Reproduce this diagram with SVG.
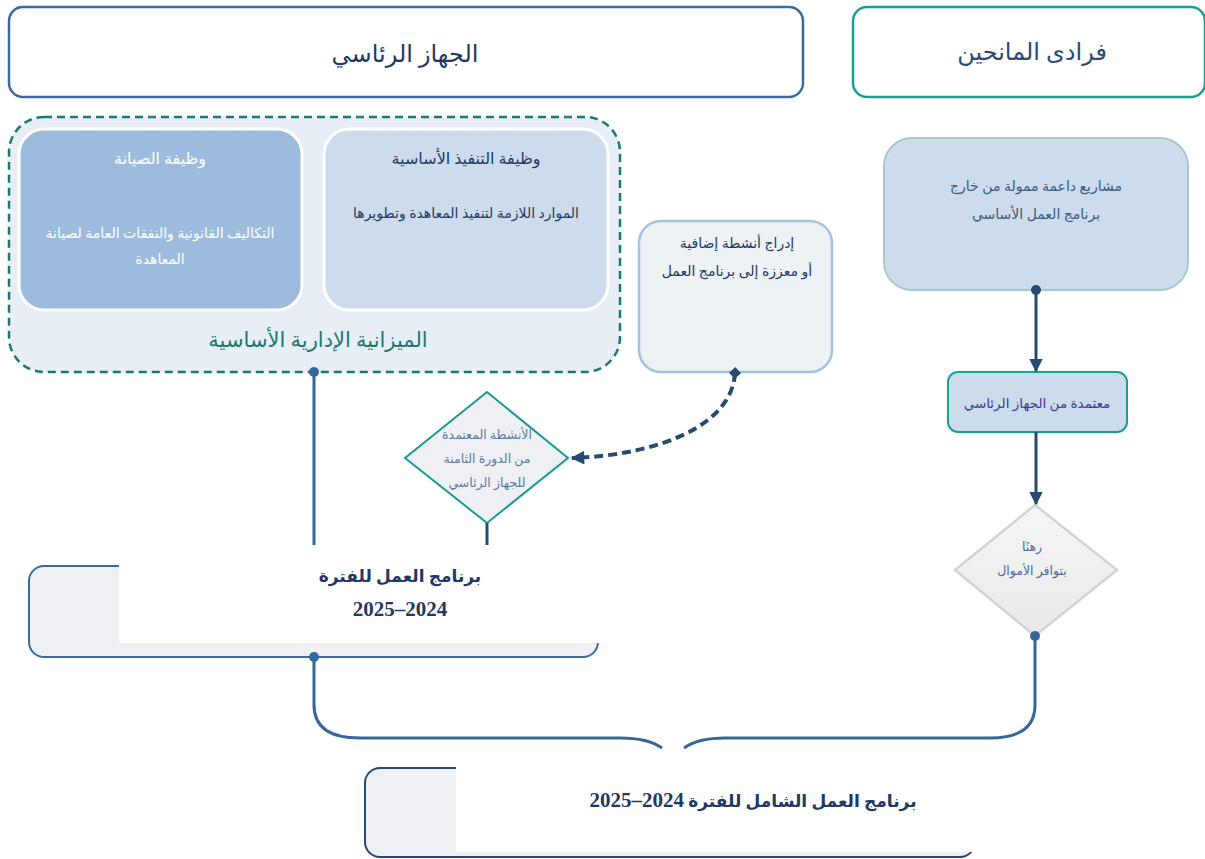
<svg xmlns="http://www.w3.org/2000/svg" width="1205" height="859" viewBox="0 0 1205 859">
<defs>
<style>
text{font-family:'Liberation Serif','DejaVu Sans',serif;text-anchor:middle;direction:rtl}
.navy{fill:#1f3864}
.hdr{font-size:24px}
.t15{font-size:14px}
.b{font-weight:bold;font-size:17px;fill:#1f3864}
.num{font-size:21px}
.ln{fill:none;stroke:#35679a;stroke-width:3}
.dk{fill:none;stroke:#264a72;stroke-width:3}
</style>
<marker id="arr" viewBox="0 0 10 10" refX="9" refY="5" markerWidth="4.5" markerHeight="4.5" orient="auto" markerUnits="strokeWidth">
<path d="M0,0 L10,5 L0,10 z" fill="#264a72"/>
</marker>
<marker id="arrD" viewBox="0 0 10 10" refX="9" refY="5" markerWidth="4" markerHeight="3.4" orient="auto" markerUnits="strokeWidth">
<path d="M0,0 L10,5 L0,10 z" fill="#264a72"/>
</marker>
<marker id="dmd" viewBox="0 0 10 10" refX="5" refY="5" markerWidth="3" markerHeight="3" orient="auto" markerUnits="strokeWidth">
<path d="M5,0 L10,5 L5,10 L0,5 z" fill="#264a72"/>
</marker>
<linearGradient id="gg" x1="0" y1="0" x2="0" y2="1">
<stop offset="0" stop-color="#f6f6f6"/><stop offset="1" stop-color="#e9e9e9"/>
</linearGradient>
</defs>
<rect width="1205" height="859" fill="#ffffff"/>

<g id="header-governing">
<rect x="9" y="7" width="794" height="90" rx="14" fill="#fff" stroke="#3a6b9e" stroke-width="2.5"/>
<text x="405" y="62" class="hdr navy">الجهاز الرئاسي</text>
</g>

<g id="header-donors">
<rect x="853" y="7" width="352" height="90" rx="14" fill="#fff" stroke="#17a09a" stroke-width="2.5"/>
<text x="1032" y="60" class="hdr" fill="#2b4a75">فرادى المانحين</text>
</g>

<g id="core-budget">
<rect x="9" y="117" width="611" height="255" rx="35" fill="#e8eef6" stroke="#1a7a70" stroke-width="2.5" stroke-dasharray="8 5"/>
<text x="318" y="347" font-size="21" fill="#1a7a70">الميزانية الإدارية الأساسية</text>
</g>

<g id="maintenance">
<rect x="19" y="129" width="283" height="181" rx="25" fill="#9dbcdd" stroke="#ffffff" stroke-width="3"/>
<text x="160" y="164" font-size="16" fill="#ffffff">وظيفة الصيانة</text>
<text x="160" y="238" class="t15" fill="#ffffff">التكاليف القانونية والنفقات العامة لصيانة</text>
<text x="160" y="264" class="t15" fill="#ffffff">المعاهدة</text>
</g>

<g id="core-execution">
<rect x="324" y="129" width="284" height="181" rx="25" fill="#cddcec" stroke="#ffffff" stroke-width="3"/>
<text x="466" y="164" font-size="16" class="navy">وظيفة التنفيذ الأساسية</text>
<text x="466" y="218" class="t15 navy">الموارد اللازمة لتنفيذ المعاهدة وتطويرها</text>
</g>

<g id="additional">
<rect x="639" y="221" width="193" height="151" rx="22" fill="#edf2f5" stroke="#a4c2e0" stroke-width="2.5"/>
<text x="737" y="248" class="t15 navy">إدراج أنشطة إضافية</text>
<text x="737" y="276" class="t15 navy">أو معززة إلى برنامج العمل</text>
</g>

<g id="approved-activities">
<polygon points="487,392 568,458 487,523 405,458" fill="#eef0f4" stroke="#1a9a90" stroke-width="2"/>
<text x="487" y="439" font-size="12.5" fill="#5a7aa0">الأنشطة المعتمدة</text>
<text x="487" y="463" font-size="12.5" fill="#5a7aa0">من الدورة الثامنة</text>
<text x="487" y="487" font-size="12.5" fill="#5a7aa0">للجهاز الرئاسي</text>
</g>

<g id="supporting-projects">
<rect x="884" y="138" width="304" height="152" rx="28" fill="#cddcec" stroke="#a8c8cc" stroke-width="2"/>
<text x="1036" y="191" class="t15" fill="#3a5a80">مشاريع داعمة ممولة من خارج</text>
<text x="1036" y="219" class="t15" fill="#3a5a80">برنامج العمل الأساسي</text>
</g>

<g id="approved-gb">
<rect x="948" y="372" width="179" height="60" rx="10" fill="#cddcec" stroke="#17a09a" stroke-width="2"/>
<text x="1037" y="408" font-size="13.5" fill="#3a3a9a">معتمدة من الجهاز الرئاسي</text>
</g>

<g id="subject-funds">
<polygon points="1035,505 1117,570 1035,636 955,570" fill="url(#gg)" stroke="#d2d2d2" stroke-width="2.5"/>
<text x="1032" y="551" font-size="12.5" fill="#4a6a9a">رهنًا</text>
<text x="1032" y="575" font-size="12.5" fill="#4a6a9a">بتوافر الأموال</text>
</g>

<g id="work-programme">
<rect x="29" y="566" width="569" height="91" rx="15" fill="#eef0f4" stroke="#3a6b9e" stroke-width="2"/>
<rect x="119" y="545" width="481" height="98" fill="#ffffff"/>
<text x="400" y="582" class="b">برنامج العمل للفترة</text>
<text x="400" y="616" class="b num">2024–2025</text>
</g>

<g id="comprehensive-programme">
<rect x="365" y="768" width="610" height="89" rx="15" fill="#eef0f4" stroke="#264a72" stroke-width="2"/>
<rect x="456" y="748" width="521" height="104" fill="#ffffff"/>
<text x="753" y="807" class="b">برنامج العمل الشامل للفترة <tspan class="num">2024–2025</tspan></text>
</g>

<g id="connectors">
<path class="ln" d="M314,372 V545"/>
<circle cx="314" cy="372" r="5" fill="#35679a"/>
<path class="dk" d="M487,523 V545"/>
<path d="M735,373 C732,425 660,455 572,458" fill="none" stroke="#264a72" stroke-width="4" stroke-dasharray="9 5" marker-start="url(#dmd)" marker-end="url(#arrD)"/>
<path class="dk" d="M1036,290 V371" marker-end="url(#arr)"/>
<circle cx="1036" cy="290" r="5" fill="#264a72"/>
<path class="dk" d="M1036,432 V504" marker-end="url(#arr)"/>
<circle cx="1035" cy="636" r="5" fill="#35679a"/>
<circle cx="314" cy="657" r="5" fill="#35679a"/>
<path class="ln" d="M314,657 V705 Q314,738 360,738 H620 Q648,738 662,748"/>
<path class="ln" d="M1035,636 V705 Q1035,738 990,738 H725 Q698,738 684,748"/>
</g>
</svg>
